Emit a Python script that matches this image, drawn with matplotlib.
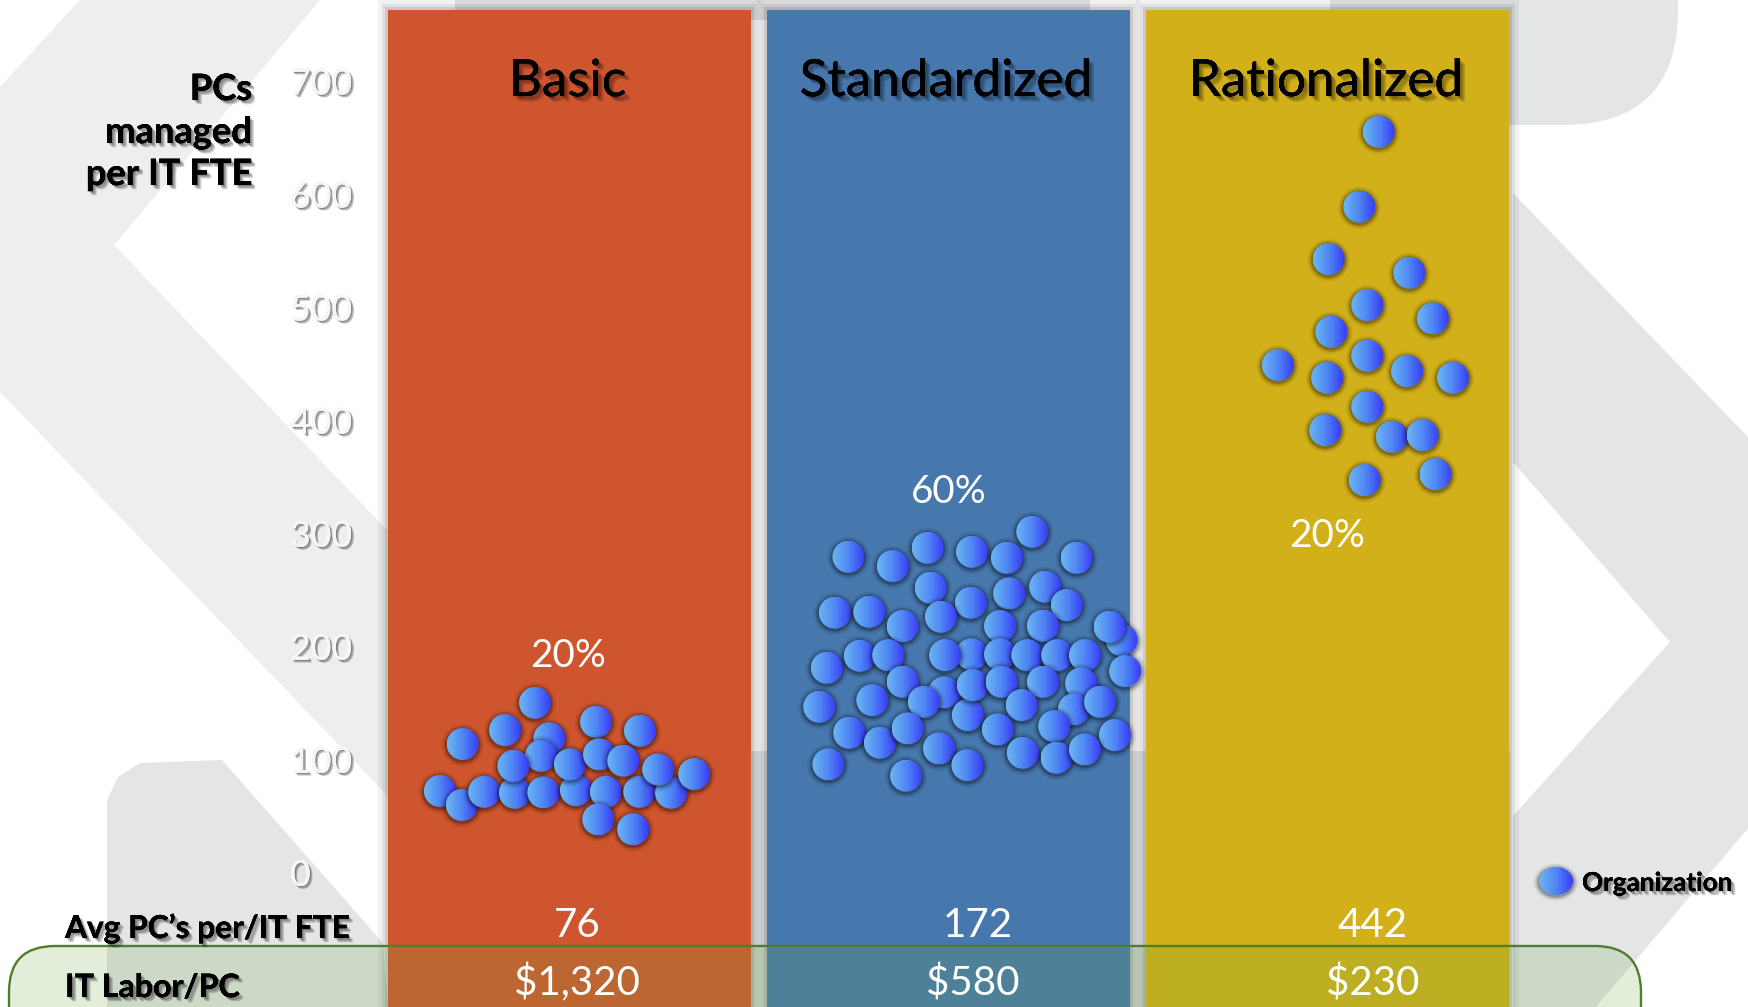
import numpy as np
import matplotlib
matplotlib.use("Agg")
import matplotlib.pyplot as plt
from matplotlib.patches import Ellipse, FancyBboxPatch, Polygon, Rectangle
from matplotlib.colors import LinearSegmentedColormap
from matplotlib.transforms import Affine2D, offset_copy
import matplotlib.patheffects as pe

# ---------------- data ----------------
categories = ["Basic", "Standardized", "Rationalized"]
share_labels = ["20%", "60%", "20%"]
avg_pcs_per_fte = [76, 172, 442]
it_labor_per_pc = ["$1,320", "$580", "$230"]
y_ticks = [0, 100, 200, 300, 400, 500, 600, 700]

# organisations: horizontal jitter inside the column (column units) and PCs per IT FTE
basic_dx = [-0.342, -0.284, -0.225, -0.144, -0.069, 0.017, 0.096, 0.184, 0.268, 0.076, 0.168,
            -0.091, -0.170, -0.282, -0.053, 0.070, 0.186,
            -0.075, -0.148, 0.001, 0.078, 0.142, 0.234, 0.329]
basic_pcs = [72.4, 60.0, 71.7, 70.8, 71.2, 73.2, 71.7, 71.7, 70.8, 47.3, 38.5,
             150.4, 126.3, 113.9, 119.0, 133.6, 125.7,
             103.6, 94.7, 96.0, 104.8, 99.2, 91.5, 87.4]

std_dx = [0.221, -0.264, -0.147, -0.055, 0.062, 0.154, 0.338,
          -0.047, 0.059, 0.160, 0.255, 0.312,
          -0.300, -0.209, -0.121, -0.020, 0.136, 0.249, 0.457, 0.425,
          0.061, 0.136, -0.321, -0.234, -0.159, -0.009, 0.208, 0.287, 0.360, 0.466,
          -0.011, 0.051, -0.121, 0.064, 0.140, 0.249, 0.350,
          -0.341, -0.201, -0.065, 0.193, 0.331, 0.400,
          -0.262, -0.181, -0.108, -0.025, 0.130, 0.279, 0.439,
          -0.317, -0.112, 0.050, 0.196, 0.285, 0.360]
std_pcs = [301.7, 279.6, 271.4, 287.5, 284.0, 278.7, 278.7,
           252.2, 238.9, 247.2, 253.1, 236.9,
           230.1, 230.9, 218.3, 226.5, 218.3, 218.6, 205.9, 217.7,
           193.3, 193.3, 181.4, 192.0, 192.6, 192.6, 192.6, 192.6, 192.6, 178.5,
           159.7, 139.6, 169.0, 166.1, 169.0, 169.0, 167.6,
           146.9, 152.8, 151.3, 148.4, 144.6, 151.3,
           123.9, 115.1, 127.8, 110.1, 126.9, 129.8, 121.9,
           96.0, 85.9, 95.3, 106.2, 101.8, 109.2]

rat_dx = [0.135, 0.084, 0.003, 0.216, 0.105, 0.278, 0.010, -0.131, 0.105, 0.210,
          0.331, -0.001, 0.105, -0.006, 0.170, 0.251, 0.098, 0.285]
rat_pcs = [655.5, 589.2, 542.9, 530.8, 502.2, 490.4, 478.6, 449.1, 457.4, 443.8,
           437.9, 437.9, 412.3, 391.6, 385.7, 387.2, 347.4, 352.7]

col_colors = ["#cf552e", "#4677ad", "#d2b01a"]

# ---------------- layout ----------------
W, H, DPI = 1748, 1007, 100
PX_X = 379.0          # pixels per column unit
PX_Y = 1.1306         # pixels per PC
X0_PX = 569.5         # pixel x of first column centre
Y0_PX = 872.8         # pixel y (from top) of value 0

fig = plt.figure(figsize=(W / DPI, H / DPI), dpi=DPI)
fig.patch.set_facecolor("white")
ax = fig.add_axes([0, 0, 1, 1])
ax.set_axis_off()
XLIM = (-X0_PX / PX_X, (W - X0_PX) / PX_X)
YLIM = ((Y0_PX - H) / PX_Y, Y0_PX / PX_Y)

def X(px):
    return (px - X0_PX) / PX_X

def Y(py):
    return (Y0_PX - py) / PX_Y

PIX = Affine2D().scale(1, -1).translate(0, H)   # pixel coords, y down

FONT = "Lato"

# ---- background watermark ----
light = "#edeeee"
mid = "#e4e5e6"
wm = [
    ([(80, 0), (320, 0), (114, 245), (388, 531), (388, 796), (0, 392), (0, 87)], light),
    ([(107, 1007), (107, 800), (118, 777), (140, 763), (222, 760), (383, 943), (388, 1007)], mid),
    ([(1513, 193), (1925, 621), (1513, 1104), (1513, 816), (1670, 642), (1513, 462)], mid),
    ([(388, 751), (1510, 751), (1510, 1007), (388, 1007)], mid),
    ([(455, 0), (1090, 0), (1090, 20), (455, 20)], mid),
]
for poly, c in wm:
    ax.add_patch(Polygon(poly, closed=True, facecolor=c, edgecolor="none",
                         transform=PIX, zorder=0))
ax.add_patch(FancyBboxPatch((1330, -300), 348, 425, boxstyle="round,pad=0,rounding_size=115",
                            facecolor=mid, edgecolor="none", transform=PIX, zorder=0))

# ---- columns ----
col_x = np.arange(len(categories))
COL_W = 363 / PX_X
COL_TOP = Y(10)
COL_BOT = YLIM[0] - 20
for grow, a in [(10, 0.05), (6, 0.07), (3, 0.10)]:
    ax.bar(col_x, COL_TOP - COL_BOT + grow / PX_Y * 2, bottom=COL_BOT - grow / PX_Y,
           width=COL_W + 2 * grow / PX_X, color="black", alpha=a, zorder=1, linewidth=0)
ax.bar(col_x, COL_TOP - COL_BOT, bottom=COL_BOT, width=COL_W, color=col_colors,
       zorder=2, linewidth=0)

# ---- organisation balls ----
ball_cmap = LinearSegmentedColormap.from_list("ball", ["#6cb6f2", "#4f86f4", "#3a3cf8"])
grad = np.linspace(0, 1, 64).reshape(1, -1)
RX = 16 / PX_X
RY = 16 / PX_Y

def ball(x, y, z, rx=RX, ry=RY):
    for s, a in [(1.32, 0.07), (1.2, 0.12), (1.1, 0.22)]:
        ax.add_patch(Ellipse((x, y - 1.2 / PX_Y), 2 * rx * s, 2 * ry * s, facecolor="black",
                             alpha=a, linewidth=0, zorder=z))
    e = Ellipse((x, y), 2 * rx, 2 * ry, facecolor="none", linewidth=0, zorder=z + 0.001)
    ax.add_patch(e)
    im = ax.imshow(grad, cmap=ball_cmap, extent=[x - rx, x + rx, y - ry, y + ry],
                   aspect="auto", interpolation="bilinear", zorder=z + 0.002)
    im.set_clip_path(e)

z = 3.0
for ci, (dxs, vals) in enumerate([(basic_dx, basic_pcs), (std_dx, std_pcs), (rat_dx, rat_pcs)]):
    for dx, v in zip(dxs, vals):
        ball(col_x[ci] + dx, v, z)
        z += 0.01

# ---- green band ----
band = FancyBboxPatch((9, 946), 1632, 160, boxstyle="round,pad=0,rounding_size=46",
                      facecolor=(0.439, 0.678, 0.278, 0.2), edgecolor="#4f7f2c",
                      linewidth=1.7, transform=PIX, zorder=6)
ax.add_patch(band)

ax.set_xlim(*XLIM)
ax.set_ylim(*YLIM)

fig.canvas.draw()
R = fig.canvas.get_renderer()

def fit(texts, ref, target):
    w = ref.get_window_extent(R).width
    k = target / w
    for t in texts:
        t.set_fontsize(t.get_fontsize() * k)

def shadow(color="black", alpha=0.18, n=3, step=1.0):
    eff = [pe.withSimplePatchShadow(offset=(step * i, -step * i), shadow_rgbFace=color,
                                    alpha=alpha) for i in range(1, n + 1)]
    return eff + [pe.Normal()]

# titles
title_x = [567.5, 946, 1326]
titles = [ax.text(X(title_x[i]), Y(96), categories[i], ha="center", va="baseline", fontsize=30,
                  family=FONT, color="black", zorder=8,
                  path_effects=shadow("black", 0.14, 4, 1.0)) for i in range(3)]
fit(titles, titles[1], 292)

# y tick labels (from the y scale)
tick_tr = offset_copy(ax.transData, fig=fig, x=0, y=-13, units="dots")
tick_texts = []
for v in y_ticks:
    tick_texts.append(ax.text(X(290), v, str(v), ha="left", va="baseline", fontsize=24,
                              family=FONT, color="#f6f6f6", transform=tick_tr, zorder=8,
                              path_effects=shadow("#333333", 0.35, 2, 1.0)))
fit(tick_texts, tick_texts[-1], 62)

# y axis label
ylab = [ax.text(X(252), Y(b), s, ha="right", va="baseline", fontsize=22, family=FONT,
                fontweight="bold", color="black", zorder=8,
                path_effects=shadow("black", 0.2, 3, 1.0))
        for s, b in [("PCs", 100), ("managed", 143), ("per IT FTE", 185)]]
fit(ylab, ylab[2], 167)

# share percentages
pct_pos = [(568, 667), (948.5, 503), (1327, 547)]
pcts = [ax.text(X(px), Y(py), share_labels[i], ha="center", va="baseline", fontsize=24,
                family=FONT, color="white", zorder=8) for i, (px, py) in enumerate(pct_pos)]
fit(pcts, pcts[0], 76)

# bottom rows
val_x = [577, 978, 1373]
avg_t = [ax.text(X(val_x[i]), Y(937), str(avg_pcs_per_fte[i]), ha="center", va="baseline",
                 fontsize=24, family=FONT, color="white", zorder=9) for i in range(3)]
lab_x = [577, 973, 1373]
cost_t = [ax.text(X(lab_x[i]), Y(995), it_labor_per_pc[i], ha="center", va="baseline",
                  fontsize=24, family=FONT, color="white", zorder=9) for i in range(3)]
fit(avg_t + cost_t, cost_t[0], 126)

row1 = ax.text(X(65), Y(938), "Avg PC\u2019s per/IT FTE", ha="left", va="baseline", fontsize=18,
               family=FONT, fontweight="bold", color="black", zorder=9,
               path_effects=shadow("black", 0.2, 3, 1.0))
fit([row1], row1, 285)
row2 = ax.text(X(65), Y(997), "IT Labor/PC", ha="left", va="baseline", fontsize=18,
               family=FONT, fontweight="bold", color="black", zorder=9,
               path_effects=shadow("black", 0.2, 3, 1.0))
fit([row2], row2, 175)

# legend
ball(X(1556), Y(881), 9, rx=17 / PX_X, ry=14 / PX_Y)
leg = ax.text(X(1582), Y(891), "Organization", ha="left", va="baseline", fontsize=16,
              family=FONT, fontweight="bold", color="black", zorder=9,
              path_effects=shadow("black", 0.2, 3, 1.0))
fit([leg], leg, 151)

ax.set_xlim(*XLIM)
ax.set_ylim(*YLIM)
fig.savefig("out.png", dpi=DPI, facecolor="white")
